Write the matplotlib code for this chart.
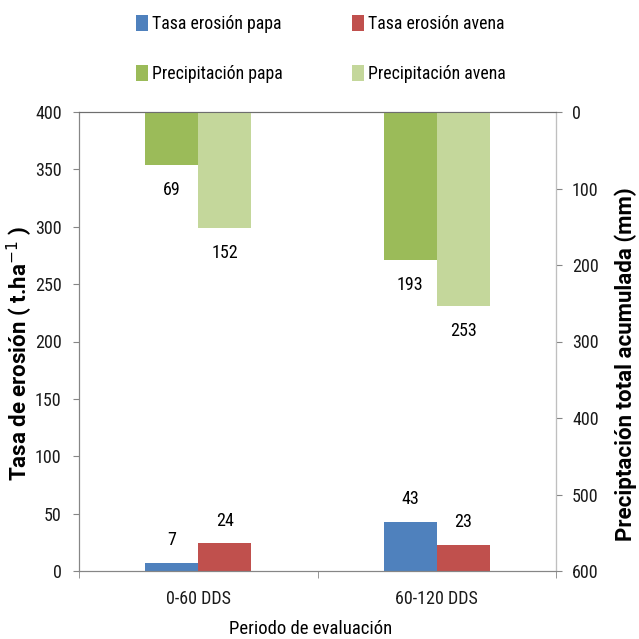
import matplotlib
matplotlib.use("Agg")
import matplotlib.pyplot as plt
from matplotlib import font_manager as fm
import numpy as np

names = {f.name for f in fm.fontManager.ttflist}
base = 'DejaVu Sans'
for cand in ['Roboto Condensed', 'Liberation Sans Narrow', 'Open Sans Condensed', 'Roboto']:
    if cand in names:
        base = cand
        break
wide = 'Roboto' if 'Roboto' in names else 'DejaVu Sans'
plt.rcParams['font.family'] = [base, 'DejaVu Sans']

categories = ["0-60 DDS", "60-120 DDS"]
erosion_papa = [7, 43]
erosion_avena = [24, 23]
precip_papa = [69, 193]
precip_avena = [152, 253]

c_blue = '#4F81BD'
c_red = '#C0504D'
c_green = '#9BBB59'
c_lgreen = '#C4D79B'
gray = '#868686'

W = H = 639
fig = plt.figure(figsize=(6.39, 6.39), dpi=100)
L, R, T, B = 79, 556, 112, 571
ax = fig.add_axes([L / W, 1 - B / H, (R - L) / W, (B - T) / H])
ax2 = ax.twinx()

x = np.arange(len(categories))
w = 0.222

b1 = ax.bar(x - w/2, erosion_papa, w, color=c_blue, label='Tasa erosión papa')
b2 = ax.bar(x + w/2, erosion_avena, w, color=c_red, label='Tasa erosión avena')
b3 = ax2.bar(x - w/2, precip_papa, w, color=c_green, label='Precipitación papa')
b4 = ax2.bar(x + w/2, precip_avena, w, color=c_lgreen, label='Precipitación avena')

ax.set_ylim(0, 400)
ax.set_yticks(np.arange(0, 401, 50))
ax2.set_ylim(600, 0)
ax2.set_yticks(np.arange(0, 601, 100))
ax.set_xlim(-0.5, 1.5)
ax.set_xticks(x)
ax.set_xticklabels(categories)
ax.set_xticks([-0.5, 0.5, 1.5], minor=True)

fs = 13
for a in (ax, ax2):
    for s in a.spines.values():
        s.set_color(gray)
    a.tick_params(axis='both', which='both', colors=gray, labelcolor='#1a1a1a', labelsize=fs)
ax2.spines['right'].set_color('#BFBFBF')
ax2.spines['top'].set_color('#6E6E6E')
ax.spines['top'].set_color('#6E6E6E')
ax.tick_params(axis='x', which='major', length=0, pad=14)
ax.tick_params(axis='x', which='minor', length=5, direction='out')
ax.tick_params(axis='y', length=4.5, direction='out', pad=8)
ax2.tick_params(axis='y', length=4.5, direction='out', pad=7)

for i, v in enumerate(precip_papa):
    ax2.annotate(str(v), (x[i] - w/2, v), xytext=(0, -18), textcoords='offset points',
                 ha='center', va='center', fontsize=fs)
for i, v in enumerate(precip_avena):
    ax2.annotate(str(v), (x[i] + w/2, v), xytext=(0, -18), textcoords='offset points',
                 ha='center', va='center', fontsize=fs)
for i, v in enumerate(erosion_papa):
    ax.annotate(str(v), (x[i] - w/2, v), xytext=(0, 16.5), textcoords='offset points',
                ha='center', va='center', fontsize=fs)
for i, v in enumerate(erosion_avena):
    ax.annotate(str(v), (x[i] + w/2, v), xytext=(0, 16.5), textcoords='offset points',
                ha='center', va='center', fontsize=fs)

ax.set_ylabel('Tasa de erosión ( t.ha$^{-1}$ )', fontsize=16, fontweight='bold',
              va='center', family=[wide, 'DejaVu Sans'])
ax.yaxis.set_label_coords((20 - L) / (R - L), 0.475)
ax2.set_ylabel('Preciptación total acumulada (mm)', fontsize=16, fontweight='bold',
               va='center', family=[wide, 'DejaVu Sans'])
ax2.yaxis.set_label_coords((626 - L) / (R - L), 0.45)
ax.set_xlabel('Periodo de evaluación', fontsize=13.5, va='center')
ax.xaxis.set_label_coords(0.485, (B - 629) / (B - T))

handles = [b1, b3, b2, b4]
fig.legend(handles, [h.get_label() for h in handles], loc='upper left',
           bbox_to_anchor=(136 / W, 1 - 15 / H), ncol=2, frameon=False, fontsize=12.8,
           handlelength=0.65, handleheight=1.0, handletextpad=0.25,
           columnspacing=3.9, labelspacing=1.8, borderpad=0, borderaxespad=0)

fig.savefig('out.png', dpi=100)
